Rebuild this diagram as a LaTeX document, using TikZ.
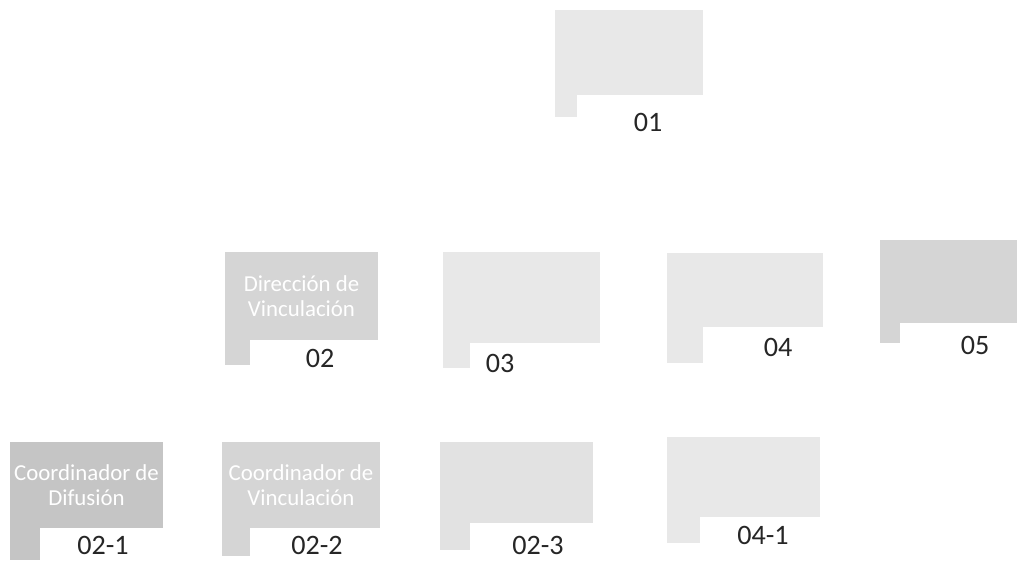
\documentclass[tikz,border=0pt]{standalone}
\usepackage{fontspec}
\setmainfont{Carlito}
\usetikzlibrary{positioning}
\definecolor{speckle}{RGB}{150, 150, 150}
\tikzset{
    unit/.style={rectangle, inner sep=2pt, align=center, text=white, font=\fontsize{13}{14}\selectfont},
    light/.style={unit, fill=speckle!22},
    medium/.style={unit, fill=speckle!40},
    dense/.style={unit, fill=speckle!55},
    code/.style={font=\fontsize{16}{18}\selectfont, text=black!85, inner sep=0pt}
}

\begin{document}
\begin{tikzpicture}[x=0.2mm, y=-0.2mm]
        \useasboundingbox (0,0) rectangle (1019,560);
        % top level
        \node[light, minimum width=2.96cm, minimum height=1.70cm] (u01) at (629,52.5) {};
        \fill[speckle!22] (u01.south west) rectangle ++(22,22);
        \node[code] (c01) at (648,122) {01};

        % second level
        \node[medium, minimum width=3.06cm, minimum height=1.76cm] (u02) at (301.5,296) {Dirección de\\Vinculación};
        \fill[speckle!40] (u02.south west) rectangle ++(25,25);
        \node[code] (c02) at (320,358) {02};
        \node[light, minimum width=3.14cm, minimum height=1.82cm] (u03) at (521.5,297.5) {};
        \fill[speckle!22] (u03.south west) rectangle ++(27,25);
        \node[code] (c03) at (500,363) {03};
        \node[light, minimum width=3.12cm, minimum height=1.48cm] (u04) at (745,290) {};
        \fill[speckle!22] (u04.south west) rectangle ++(36,36);
        \node[code] (c04) at (778,347) {04};
        \node[medium, minimum width=2.74cm, minimum height=1.66cm] (u05) at (948.5,281.5) {};
        \fill[speckle!40] (u05.south west) rectangle ++(20,20);
        \node[code] (c05) at (975,345) {05};

        % third level
        \node[dense, minimum width=3.06cm, minimum height=1.72cm] (u021) at (86.5,485) {Coordinador de\\Difusión};
        \fill[speckle!55] (u021.south west) rectangle ++(30,32);
        \node[code] (c021) at (103,545) {02-1};
        \node[medium, minimum width=3.16cm, minimum height=1.72cm] (u022) at (301,485) {Coordinador de\\Vinculación};
        \fill[speckle!40] (u022.south west) rectangle ++(28,28);
        \node[code] (c022) at (317,545) {02-2};
        \node[light, fill=speckle!28, minimum width=3.06cm, minimum height=1.62cm] (u023) at (516.5,482.5) {};
        \fill[speckle!28] (u023.south west) rectangle ++(30,27);
        \node[code] (c023) at (538,545) {02-3};
        \node[light, minimum width=3.06cm, minimum height=1.60cm] (u041) at (743.5,477) {};
        \fill[speckle!22] (u041.south west) rectangle ++(33,26);
        \node[code] (c041) at (763,535) {04-1};
    \end{tikzpicture}
\end{document}
